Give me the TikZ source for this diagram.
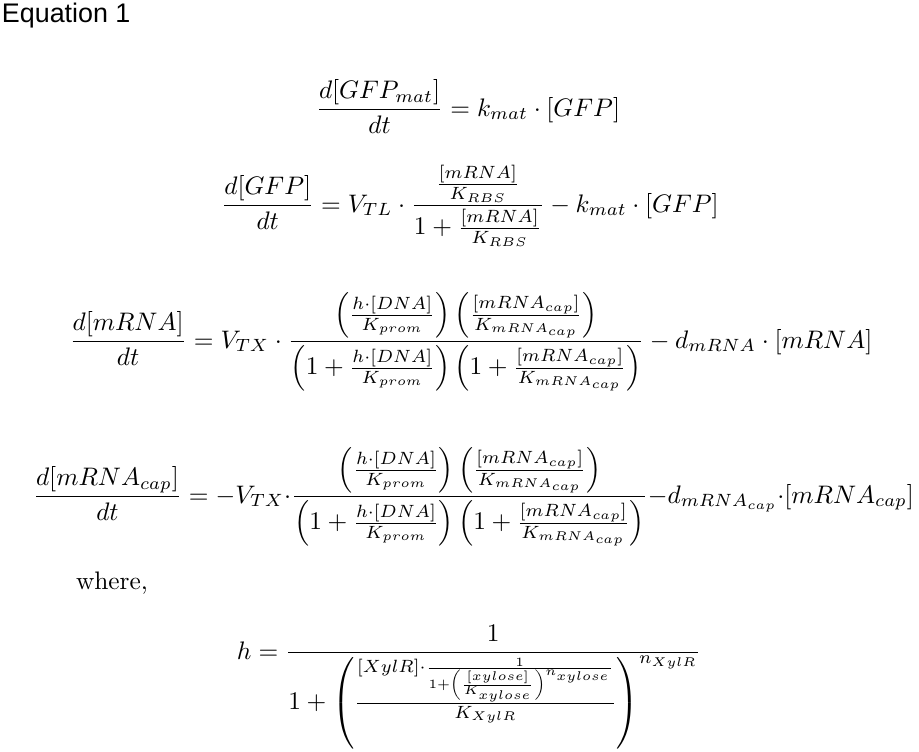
\documentclass[tikz,border=0pt]{standalone}
\usepackage{amsmath}
\usepackage{fontspec}
\newfontfamily\titlefont{Liberation Sans}
\newsavebox\capbox
\begin{document}
\sbox\capbox{$\displaystyle \frac{d[mRNA_{cap}]}{dt} = -V_{TX}{\cdot}\frac{\left(\frac{h\cdot[DNA]}{K_{prom}}\right)\left(\frac{[mRNA_{cap}]}{K_{mRNA_{cap}}}\right)}{\left(1+\frac{h\cdot[DNA]}{K_{prom}}\right)\left(1+\frac{[mRNA_{cap}]}{K_{mRNA_{cap}}}\right)}{-}d_{mRNA_{cap}}{\cdot}[mRNA_{cap}]$}%
\pgfmathsetmacro\pxunit{\the\wd\capbox/881}%
\begin{tikzpicture}[x=\pxunit pt, y=-\pxunit pt,
		eqn/.style={anchor=base, inner sep=0pt, outer sep=0pt}]
		\useasboundingbox (0,0) rectangle (919,751);
		\clip (0,0) rectangle (919,751);
		\node[eqn, anchor=base west] (title) at (2,23) {\titlefont\fontsize{10.6}{12}\selectfont Equation 1};
		\node[eqn] (gfpmat) at (468,116) {$\displaystyle \frac{d[GFP_{mat}]}{dt} = k_{mat}\cdot[GFP]$};
		\node[eqn] (gfp) at (470,212) {$\displaystyle \frac{d[GFP]}{dt} = V_{TL}\cdot\frac{\frac{[mRNA]}{K_{RBS}}}{1+\frac{[mRNA]}{K_{RBS}}} - k_{mat}\cdot[GFP]$};
		\node[eqn] (mrna) at (471,348) {$\displaystyle \frac{d[mRNA]}{dt} = V_{TX}\cdot\frac{\left(\frac{h\cdot[DNA]}{K_{prom}}\right)\left(\frac{[mRNA_{cap}]}{K_{mRNA_{cap}}}\right)}{\left(1+\frac{h\cdot[DNA]}{K_{prom}}\right)\left(1+\frac{[mRNA_{cap}]}{K_{mRNA_{cap}}}\right)} - d_{mRNA}\cdot[mRNA]$};
		\node[eqn] (mrnacap) at (473.5,503) {\usebox\capbox};
		\node[eqn, anchor=base west] (where) at (76,589) {where,};
		\node[eqn] (hill) at (469,659) {$\displaystyle h = \frac{1}{1+\left(\frac{[XylR]\cdot\frac{1}{1+\left(\frac{[xylose]}{K_{xylose}}\right)^{n_{xylose}}}}{K_{XylR}}\right)^{n_{XylR}}}$};
	\end{tikzpicture}
\end{document}
